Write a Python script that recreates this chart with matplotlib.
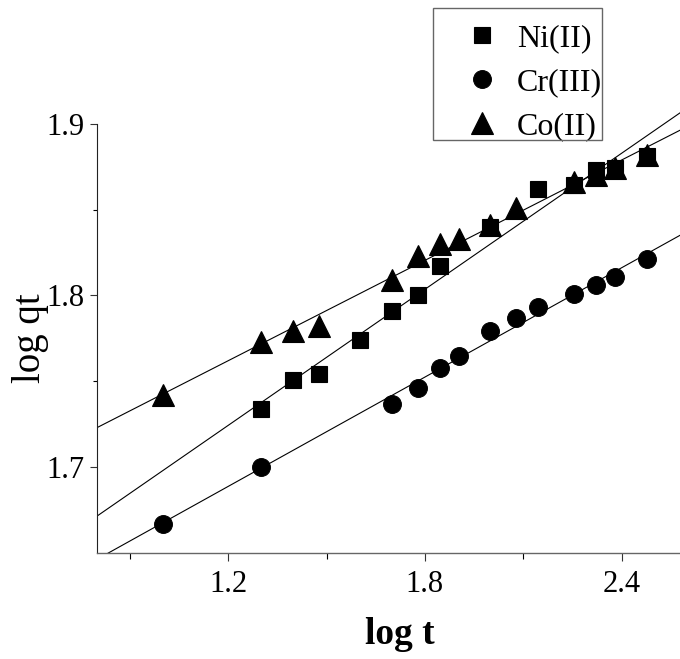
import numpy as np
import matplotlib
matplotlib.use("Agg")
import matplotlib.pyplot as plt
from matplotlib.patches import Rectangle

# log t values and log qt for each metal
ni_x = [1.301, 1.398, 1.477, 1.602, 1.699, 1.778, 1.845, 2.000, 2.146, 2.255, 2.322, 2.380, 2.477]
ni_y = [1.734, 1.751, 1.754, 1.774, 1.791, 1.800, 1.817, 1.840, 1.862, 1.864, 1.873, 1.874, 1.881]

cr_x = [1.000, 1.301, 1.699, 1.778, 1.845, 1.903, 2.000, 2.079, 2.146, 2.255, 2.322, 2.380, 2.477]
cr_y = [1.667, 1.700, 1.737, 1.746, 1.758, 1.765, 1.779, 1.787, 1.793, 1.801, 1.806, 1.811, 1.821]

co_x = [1.000, 1.301, 1.398, 1.477, 1.699, 1.778, 1.845, 1.903, 2.000, 2.079, 2.255, 2.322, 2.380, 2.477]
co_y = [1.742, 1.773, 1.779, 1.782, 1.809, 1.823, 1.830, 1.833, 1.841, 1.851, 1.866, 1.870, 1.874, 1.882]

labels = ["Ni(II)", "Cr(III)", "Co(II)"]
x_ticks = [1.2, 1.8, 2.4]
y_ticks = [1.7, 1.8, 1.9]

plt.rcParams["font.family"] = ["Liberation Serif", "DejaVu Serif"]

fig = plt.figure(figsize=(6.8, 6.59), dpi=100)
ax = fig.add_axes([97 / 680, 106 / 659, 1 - 97 / 680, 553 / 659])
ax.set_xlim(0.80, 2.578)
ax.set_ylim(1.65, 1.972)

series = [
    (ni_x, ni_y, "s", 11.5),
    (cr_x, cr_y, "o", 12.8),
    (co_x, co_y, "^", 15.5),
]

# fitted lines first, markers on top
xs = np.linspace(0.6, 2.8, 10)
for (x, y, m, ms), lab in zip(series, labels):
    k, b = np.polyfit(x, y, 1)
    ax.plot(xs, k * xs + b, color="black", lw=0.8, zorder=2)
for (x, y, m, ms), lab in zip(series, labels):
    ax.plot(x, y, ls="none", marker=m, ms=ms, color="black", mec="black",
            mew=0.8, label=lab, zorder=3)

ax.spines["top"].set_visible(False)
ax.spines["right"].set_visible(False)
ax.spines["left"].set_bounds(1.65, 1.9)
ax.spines["left"].set_color("#222222")
ax.spines["bottom"].set_color("#666666")
ax.spines["left"].set_linewidth(0.8)
ax.spines["bottom"].set_linewidth(1.0)

ax.set_xticks(x_ticks)
ax.set_xticks([0.9, 1.5, 2.1], minor=True)
ax.set_yticks(y_ticks)
ax.set_yticks([1.75, 1.85], minor=True)
ax.set_yticklabels([f"{v:.1f}" for v in y_ticks])
ax.tick_params(axis="both", which="major", labelsize=22, width=0.8, color="#333333")
ax.tick_params(axis="x", which="major", length=6, pad=6)
ax.tick_params(axis="x", which="minor", length=4, width=0.8)
ax.tick_params(axis="y", which="major", length=5, pad=4)
ax.tick_params(axis="y", which="minor", length=3, width=0.8)

ax.set_xlabel("log t", fontsize=27, fontweight="bold")
ax.xaxis.set_label_coords(0.52, -0.115)
ax.set_ylabel("log qt", fontsize=28)
ax.yaxis.set_label_coords(-0.082, 0.389)

leg = ax.legend(loc="upper left", bbox_to_anchor=(433 / 680, 1 - 8 / 659),
                bbox_transform=fig.transFigure, borderaxespad=0, fontsize=23,
                frameon=False, borderpad=0.5, handlelength=2.06,
                handletextpad=0.06, labelspacing=0.45)
# legend box is tighter than the text in the original, draw it by hand
fig.add_artist(Rectangle((433 / 680, 1 - 140 / 659), 169 / 680, 132 / 659,
                         transform=fig.transFigure, fill=False,
                         edgecolor="#666666", lw=1.0, zorder=5))

fig.savefig("out.png", dpi=100)
